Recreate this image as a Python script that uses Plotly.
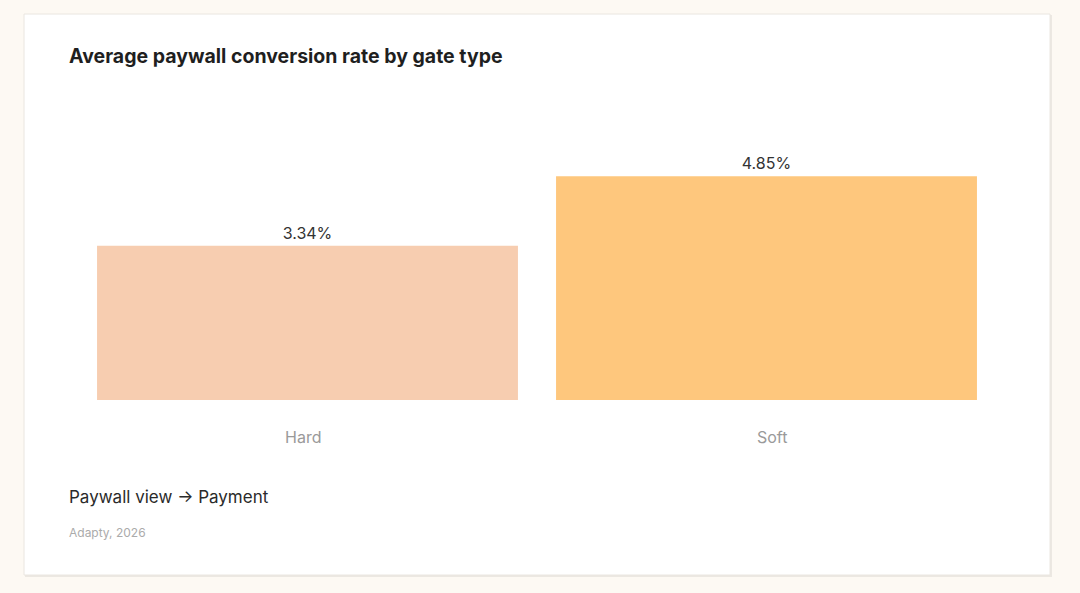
import plotly.graph_objects as go

categories = ["Hard", "Soft"]
values = [3.34, 4.85]
labels = ["3.34%", "4.85%"]
bar_colors = ["#F7CDB0", "#FEC77D"]
label_shifts = [-5, 5]

W, H = 1080, 593
L, R, T, B = 78, 84, 100, 193
PW, PH = W - L - R, H - T - B

def px(x):
    return (x - L) / PW

def py(y):
    return (H - B - y) / PH

fig = go.Figure()
fig.add_trace(go.Bar(
    x=categories, y=values, text=labels, textposition="outside",
    marker=dict(color=bar_colors, line=dict(width=0)),
    textfont=dict(family="Inter, sans-serif", size=16, color="#333333"),
    cliponaxis=False, hoverinfo="skip",
))

shapes = [
    dict(type="rect", xref="paper", yref="paper", x0=px(25), x1=px(1052), y0=py(15), y1=py(577),
         fillcolor="#ECE8E2", line=dict(width=0), layer="below"),
    dict(type="rect", xref="paper", yref="paper", x0=px(24), x1=px(1050), y0=py(14), y1=py(575),
         fillcolor="#FFFFFF", line=dict(color="#EAE6E0", width=1), layer="below"),
]

annotations = [
    dict(text="<b>Average paywall conversion rate by gate type</b>", xref="paper", yref="paper",
         x=px(67), y=py(56), xanchor="left", yanchor="middle", showarrow=False,
         font=dict(family="Inter, sans-serif", size=19.5, color="#1F1F1F")),
    dict(text="Paywall view → Payment",
         xref="paper", yref="paper",
         x=px(67), y=py(497), xanchor="left", yanchor="middle", showarrow=False,
         font=dict(family="Inter, sans-serif", size=17, color="#2A2A2A")),
    dict(text="Adapty, 2026", xref="paper", yref="paper",
         x=px(67), y=py(532), xanchor="left", yanchor="middle", showarrow=False,
         font=dict(family="Inter, sans-serif", size=12, color="#ABABAB")),
]
for cat, sh in zip(categories, label_shifts):
    annotations.append(dict(
        text=cat, xref="x", yref="paper", x=cat, y=0, xshift=sh, yshift=-37,
        xanchor="center", yanchor="middle", showarrow=False,
        font=dict(family="Inter, sans-serif", size=16, color="#9A9A9A")))

fig.update_layout(
    width=W, height=H,
    margin=dict(l=L, r=R, t=T, b=B, autoexpand=False),
    paper_bgcolor="#FDF9F3", plot_bgcolor="rgba(0,0,0,0)",
    bargap=0.083, showlegend=False,
    shapes=shapes, annotations=annotations,
    font=dict(family="Inter, sans-serif"),
    xaxis=dict(showgrid=False, zeroline=False, showline=False, ticks="",
               showticklabels=False),
    yaxis=dict(range=[0, PH / 46.15], visible=False, showgrid=False, zeroline=False),
)

fig.write_html(
    "out.html",
    config={"displayModeBar": False},
    post_script="document.body.style.margin='0';document.body.style.background='#FDF9F3';document.body.style.overflow='hidden';",
)
